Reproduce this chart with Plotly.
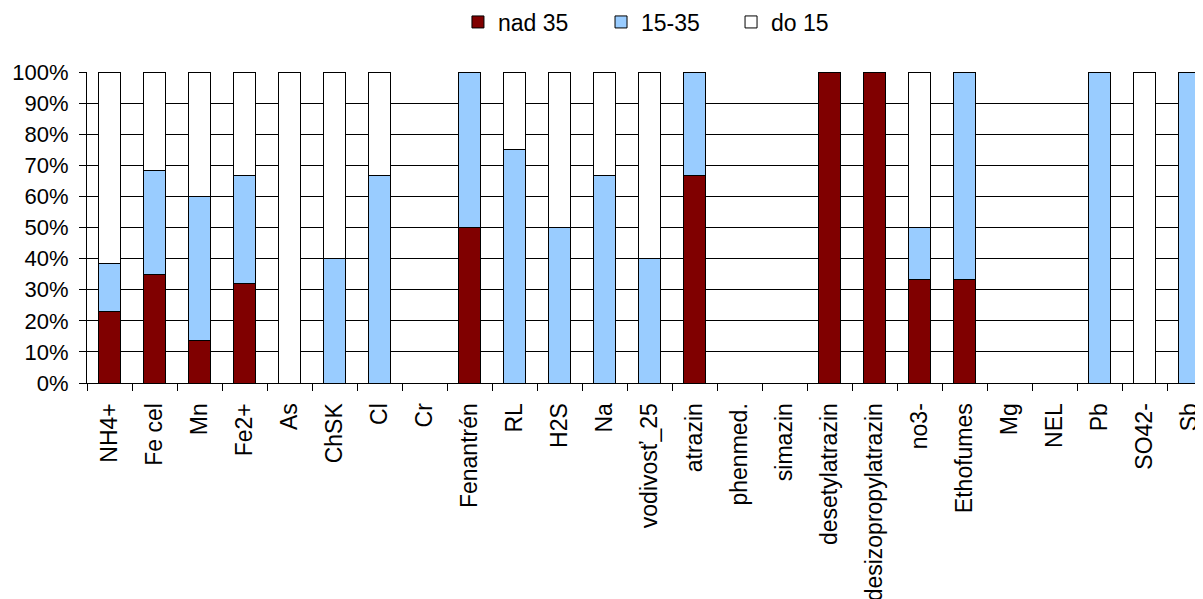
import plotly.graph_objects as go

categories = ["NH4+", "Fe cel", "Mn", "Fe2+", "As", "ChSK", "Cl", "Cr", "Fenantrén", "RL",
              "H2S", "Na", "vodivosť_25", "atrazin", "phenmed.", "simazin", "desetylatrazin",
              "desizopropylatrazin", "no3-", "Ethofumes", "Mg", "NEL", "Pb", "SO42-", "Sb"]

nad_35 = [23.1, 34.8, 13.6, 32.1, None, None, None, None, 50.0, None,
          None, None, None, 66.7, None, None, 100.0,
          100.0, 33.3, 33.3, None, None, None, None, None]

p15_35 = [15.4, 33.6, 46.5, 34.5, None, 40.0, 66.7, None, 50.0, 75.0,
          50.0, 66.7, 40.0, 33.3, None, None, None,
          None, 16.7, 66.7, None, None, 100.0, None, 100.0]

do_15 = [61.5, 31.6, 39.9, 33.4, 100.0, 60.0, 33.3, None, None, 25.0,
         50.0, 33.3, 60.0, None, None, None, None,
         None, 50.0, None, None, None, None, 100.0, None]

series = [("nad 35", nad_35, "#800000", "legend", 0.3324),
          ("15-35", p15_35, "#99CCFF", "legend2", 0.4606),
          ("do 15", do_15, "#FFFFFF", "legend3", 0.5771)]

FONT = "Liberation Sans, Arial, sans-serif"

fig = go.Figure()
legends = {}
for name, vals, color, leg, lx in series:
    fig.add_trace(go.Bar(
        name=name, x=categories, y=vals, legend=leg,
        marker=dict(color=color, line=dict(color="#000000", width=1)),
    ))
    legends[leg] = dict(orientation="h", x=lx, xanchor="left",
                        y=1.1608, yanchor="middle",
                        font=dict(family=FONT, size=23, color="#000000"),
                        bgcolor="rgba(0,0,0,0)", itemwidth=30)

fig.update_layout(
    width=1195, height=591,
    template="none",
    barmode="stack",
    bargap=0.53,
    paper_bgcolor="white", plot_bgcolor="white",
    margin=dict(l=79, r=0, t=64, b=216, autoexpand=False),
    font=dict(family=FONT, size=23, color="#000000"),
    showlegend=True,
    **legends,
)

fig.update_xaxes(
    type="category", range=[-0.5, 24.3], automargin=False,
    tickangle=-90, tickson="boundaries", ticks="outside", ticklen=7,
    tickcolor="#000000", showline=True, linecolor="#000000", linewidth=1,
    showgrid=False, ticklabelstandoff=10,
    tickfont=dict(family=FONT, size=23, color="#000000"),
)
fig.update_yaxes(
    range=[0, 100], dtick=10, ticksuffix="%", automargin=False,
    ticks="outside", ticklen=7, tickcolor="#000000",
    showline=True, linecolor="#000000", linewidth=1,
    showgrid=True, gridcolor="#000000", gridwidth=1, zeroline=False,
    ticklabelstandoff=6,
    tickfont=dict(family=FONT, size=22, color="#000000"),
)

fig.write_html("out.html")
